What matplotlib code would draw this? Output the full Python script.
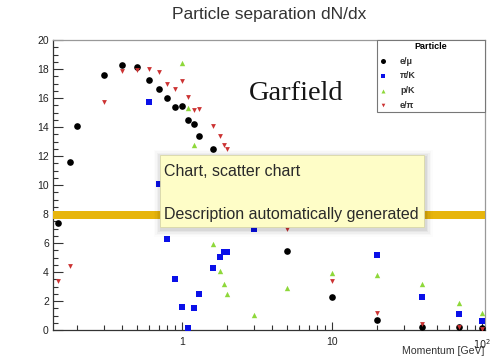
import numpy as np
import matplotlib
matplotlib.use("Agg")
import matplotlib.pyplot as plt
from matplotlib.patches import Rectangle
from matplotlib.ticker import LogLocator, NullFormatter, MultipleLocator

plt.rcParams['font.family'] = ['Liberation Sans', 'DejaVu Sans']

# ---------------- data ----------------
emu_x = [0.15, 0.18, 0.2, 0.3, 0.4, 0.5, 0.6, 0.7, 0.8, 0.9, 1.0, 1.1, 1.2, 1.3, 1.6, 5, 10, 20, 40, 70, 100]
emu_y = [7.4, 11.6, 14.1, 17.6, 18.3, 18.15, 17.25, 16.65, 16.0, 15.4, 15.45, 14.5, 14.2, 13.35, 12.45, 5.45, 2.3, 0.7, 0.2, 0.2, 0.15]

piK_x = [0.6, 0.7, 0.8, 0.9, 1.0, 1.1, 1.2, 1.3, 1.6, 1.8, 1.9, 2.0, 3, 20, 40, 70, 100]
piK_y = [15.7, 10.1, 6.25, 3.5, 1.6, 0.15, 1.5, 2.45, 4.3, 5.05, 5.4, 5.4, 6.95, 5.2, 2.25, 1.1, 0.6]

pK_x = [1.0, 1.1, 1.2, 1.6, 1.8, 1.9, 2.0, 3, 5, 10, 20, 40, 70, 100]
pK_y = [18.4, 15.3, 12.75, 5.9, 4.05, 3.2, 2.5, 1.05, 2.9, 3.9, 3.8, 3.2, 1.85, 1.15]

epi_x = [0.15, 0.18, 0.3, 0.4, 0.5, 0.6, 0.7, 0.8, 0.9, 1.0, 1.1, 1.2, 1.3, 1.6, 1.8, 1.9, 2.0, 5, 10, 20, 40, 70, 100]
epi_y = [3.4, 4.4, 15.7, 17.85, 17.9, 18.0, 17.8, 17.0, 16.65, 17.15, 16.05, 15.2, 15.25, 14.05, 13.4, 12.75, 12.45, 6.95, 3.35, 1.15, 0.4, 0.2, 0.1]

series_labels = ['e/\u03bc', '\u03c0/K', 'p/K', 'e/\u03c0']
x_ticks = [1, 10, 100]
x_ticklabels = ['1', '10', '$10^{2}$']
y_ticks = list(range(0, 21, 2))

title = 'Particle separation dN/dx'
x_title = 'Momentum [GeV]'
legend_title = 'Particle'
watermark = 'Garfield'
tooltip_lines = ['Chart, scatter chart', 'Description automatically generated']

# ---------------- figure ----------------
W, H = 493, 357
fig = plt.figure(figsize=(W / 100, H / 100), dpi=100)
fig.patch.set_facecolor('white')
ax = fig.add_axes([53 / W, 1 - 330 / H, 432 / W, 290 / H])

ax.set_xscale('log')
ax.set_xlim(0.138, 104.7)
ax.set_ylim(0, 20)

ax.scatter(emu_x, emu_y, s=23, marker='o', color='black', linewidths=0, label=series_labels[0], zorder=3)
ax.scatter(piK_x, piK_y, s=19, marker='s', color='#0A10E8', linewidths=0, label=series_labels[1], zorder=3)
ax.scatter(pK_x, pK_y, s=15, marker='^', color='#8ED83A', linewidths=0, label=series_labels[2], zorder=3)
ax.scatter(epi_x, epi_y, s=12, marker='v', color='#CC3333', linewidths=0, label=series_labels[3], zorder=3)

# yellow band
ax.axhspan(7.63, 8.2, color='#E7B50C', zorder=4, lw=0)

# ticks
ax.set_xticks(x_ticks)
ax.set_xticklabels(x_ticklabels)
ax.xaxis.set_minor_locator(LogLocator(base=10, subs=np.arange(2, 10)))
ax.xaxis.set_minor_formatter(NullFormatter())
ax.set_yticks(y_ticks)
ax.yaxis.set_minor_locator(MultipleLocator(0.5))
ax.tick_params(axis='both', which='both', direction='in', top=False, right=False,
               colors='#333333', labelcolor='#222222', labelsize=7.5, width=0.8)
ax.tick_params(axis='y', which='major', length=7, pad=3)
ax.tick_params(axis='y', which='minor', length=3.6)
ax.tick_params(axis='x', which='major', length=6, pad=5)
ax.tick_params(axis='x', which='minor', length=3.3)
xlabs = ax.get_xticklabels()
xlabs[-1].set_fontsize(7)

for s in ['left', 'bottom']:
    ax.spines[s].set_color('#333333')
    ax.spines[s].set_linewidth(0.9)
for s in ['top', 'right']:
    ax.spines[s].set_color('#999999')
    ax.spines[s].set_linewidth(0.9)

# legend
leg = ax.legend(loc='upper left', bbox_to_anchor=(0.75, 0.755, 0.25, 0.245), mode='expand',
                borderaxespad=0, title=legend_title,
                title_fontproperties={'weight': 'bold', 'size': 6.5},
                prop={'weight': 'bold', 'size': 6.5}, frameon=True, fancybox=False,
                edgecolor='#777777', framealpha=1, handlelength=0.8, handletextpad=1.5,
                labelspacing=0.62, borderpad=0.25, scatterpoints=1, markerscale=0.75)
leg.get_frame().set_linewidth(0.8)
leg.set_zorder(6)
for t in leg.get_texts():
    t.set_color('#333333')

# watermark text
fig.text(296 / W, 1 - 100 / H, watermark, ha='center', va='baseline',
         family=['Liberation Serif', 'DejaVu Serif'], fontsize=20.5, color='#151515')

# titles
fig.text(269 / W, 1 - 19.5 / H, title, ha='center', va='baseline', fontsize=12.5, color='#333333')
fig.text(484 / W, 1 - 354.5 / H, x_title, ha='right', va='baseline', fontsize=7.6, color='#333333')

# tooltip overlay
x0, y0, x1, y1 = 160, 155, 424, 227
for i, a in enumerate([0.05, 0.04, 0.03, 0.02, 0.012]):
    d = 1.5 * (i + 1)
    fig.add_artist(Rectangle(((x0 - d + 1) / W, 1 - (y1 + d + 2) / H), (x1 - x0 + 2 * d) / W, (y1 - y0 + 2 * d) / H,
                             transform=fig.transFigure, facecolor='black', alpha=a, lw=0, zorder=8))
fig.add_artist(Rectangle((x0 / W, 1 - y1 / H), (x1 - x0) / W, (y1 - y0) / H, transform=fig.transFigure,
                         facecolor='#FEFDC7', edgecolor='#D9D7A8', lw=0.6, zorder=9))
fig.text(164 / W, 1 - 175.5 / H, tooltip_lines[0], ha='left', va='baseline', fontsize=11.5, color='#2a2a2a', zorder=10)
fig.text(164 / W, 1 - 219.5 / H, tooltip_lines[1], ha='left', va='baseline', fontsize=11.5, color='#2a2a2a', zorder=10)

fig.savefig('out.png', dpi=100)
